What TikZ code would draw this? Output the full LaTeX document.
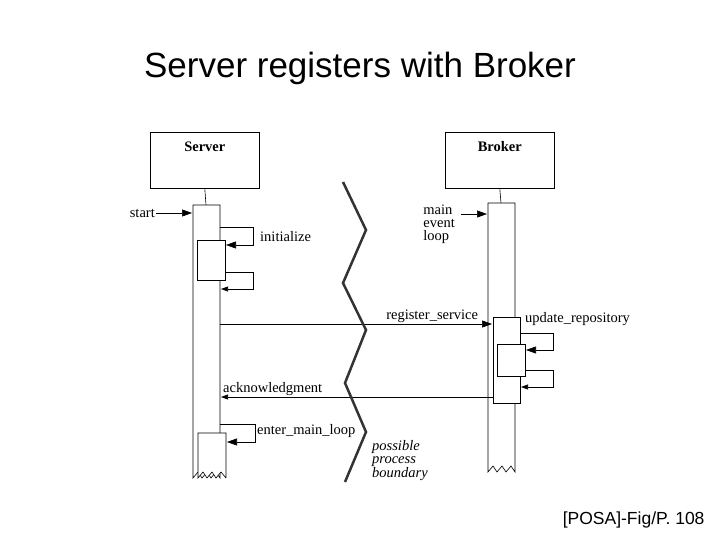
\documentclass[tikz,border=0pt]{standalone}
\usepackage{fontspec}
\setmainfont{Liberation Serif}
\newfontfamily\titlefont{Liberation Sans}
\usetikzlibrary{arrows.meta}
\tikzset{
  object/.style={draw, line width=0.6pt, minimum width=109pt, minimum height=56pt, inner sep=0pt},
  bar/.style={draw, fill=white, line width=0.6pt},
  msg/.style={line width=0.6pt, -{Triangle[length=10pt,width=7pt]}},
  small msg/.style={line width=0.6pt, -{Triangle[length=7pt,width=5pt]}},
  lbl/.style={font=\fontsize{14.5}{13}\selectfont, inner sep=1pt},
  boundary/.style={line width=2.5pt, black!80}
}
\begin{document}
\begin{tikzpicture}[x=1pt,y=-1pt]
  \useasboundingbox (0,0) rectangle (720,540);
  \node[font=\titlefont\fontsize{35}{35}\selectfont] (title) at (360,68) {Server registers with Broker};
  \node[font=\titlefont\fontsize{17.5}{17.5}\selectfont, anchor=east] (src) at (708,520) {[POSA]-Fig/P. 108};

  % objects
  \node[object, anchor=north west] (server) at (150,132) {};
  \node[font=\bfseries\fontsize{14.5}{14}\selectfont] at ([yshift=-15pt]server.north) {Server};
  \node[object, anchor=north west] (broker) at (445,132) {};
  \node[font=\bfseries\fontsize{14.5}{14}\selectfont] at ([yshift=-15pt]broker.north) {Broker};

  % lifelines
  \draw[line width=0.6pt] (server.south) -- (206,205);
  \draw[line width=0.6pt] (broker.south) -- (501,203);
  \draw[bar] (220,467) -- (220,205) -- (193,205) -- (193,478)
    -- (198,472) -- (202,478) -- (207,472) -- (211,478) -- (216,472) -- (220,478) -- (220,467);
  \draw[bar] (515,467) -- (515,203) -- (488,203) -- (488,472)
    -- (493,466) -- (497,472) -- (502,466) -- (506,472) -- (511,466) -- (515,472) -- (515,467);

  % server side
  \coordinate (st) at (156,213);
  \node[lbl, anchor=east] at (st) {start};
  \draw[msg] (st) -- (192,213);
  \draw[bar] (197,240) rectangle (225,280);
  \draw[msg] (220,227) -- (253,227) -- (253,245) -- (226,245);
  \node[lbl, anchor=west] at (259,237) {initialize};
  \draw[small msg] (225,272) -- (253,272) -- (253,289) -- (221,289);
  \draw[bar] (226,478) -- (226,433) -- (198,433) -- (198,478)
    -- (203,472) -- (207,478) -- (212,472) -- (216,478) -- (221,472) -- (226,478);
  \draw[msg] (220,424) -- (255,424) -- (255,442) -- (227,442);
  \node[lbl, anchor=west] at (256,431) {enter\_main\_loop};

  % broker side
  \coordinate (me) at (461,214);
  \node[lbl, anchor=east, align=left] at (456,224) {main\\event\\loop};
  \draw[msg] (me) -- (487,214);
  \draw[bar] (493,317) rectangle (520,403);
  \draw[bar] (497,344) rectangle (525,376);
  \draw[msg] (520,333) -- (553,333) -- (553,350) -- (526,350);
  \draw[small msg] (525,370) -- (553,370) -- (553,387) -- (521,387);
  \node[lbl, anchor=west] at (524,319) {update\_repository};

  % messages
  \draw[msg] (220,324) -- node[lbl, above, pos=0.78] {register\_service} (492,324);
  \draw[small msg] (493,397) -- node[lbl, above, pos=0.81] {acknowledgment} (221,397);

  % process boundary
  \draw[boundary, line join=miter] (343,182) -- (366,230) -- (343,283) -- (366,330)
    -- (345,383) -- (366,432) -- (345,482);
  \node[lbl, anchor=north west, align=left, font=\itshape\fontsize{14.5}{13}\selectfont] at (371,439) {possible\\process\\boundary};
\end{tikzpicture}
\end{document}
